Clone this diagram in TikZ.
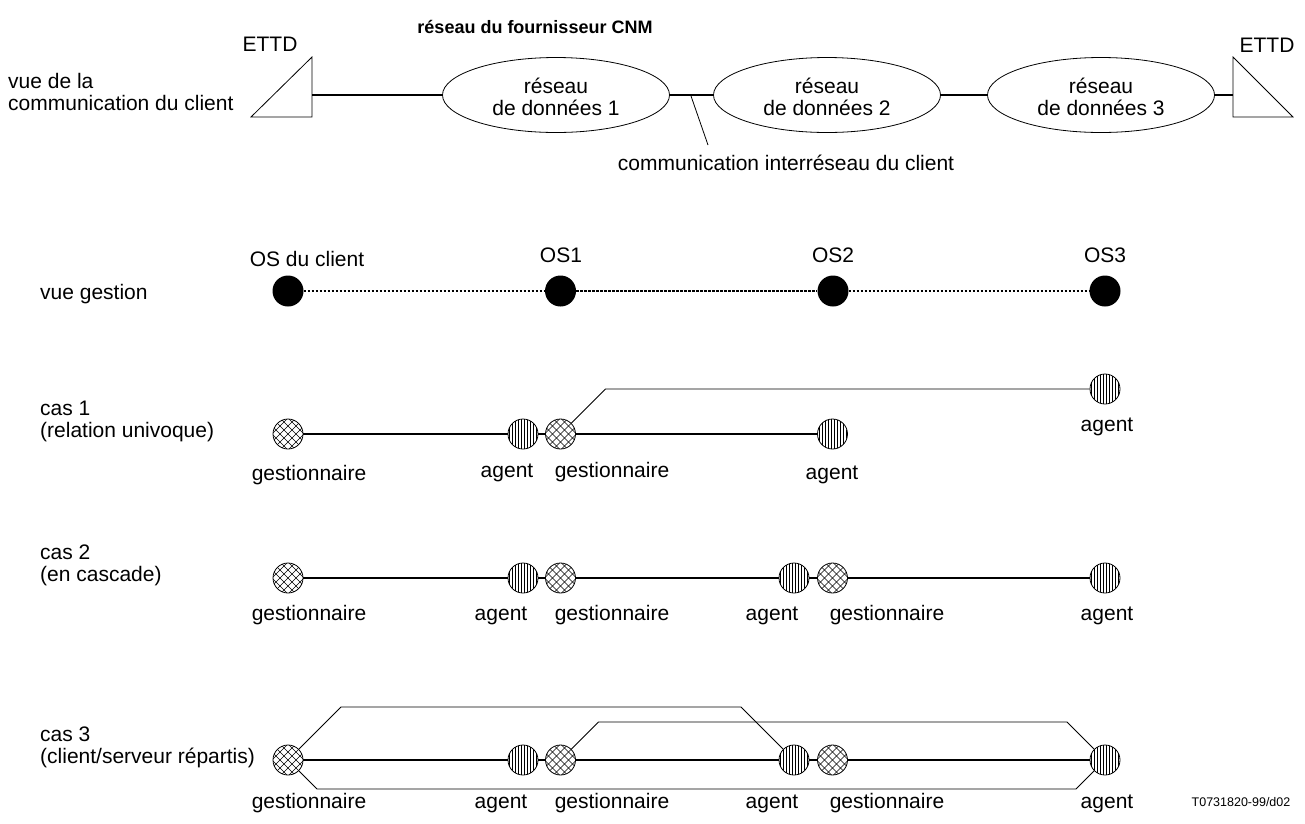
\documentclass[tikz,border=0pt]{standalone}
\usepackage{fontspec}
\setmainfont{Liberation Sans}
\usetikzlibrary{shapes.geometric,calc}
\newcommand\gesthatch{%
  \foreach \k in {-24,-16,...,24}{%
    \draw[line width=0.5pt] ($(path picture bounding box.center)+(\k pt,0pt)+(-20pt,-20pt)$) -- ++(40pt,40pt);
    \draw[line width=0.5pt] ($(path picture bounding box.center)+(\k pt,0pt)+(-20pt,20pt)$) -- ++(40pt,-40pt);
  }}
\newcommand\agenthatch{%
  \foreach \k in {-13.5,-10.5,...,14}{%
    \draw[line width=0.5pt] ($(path picture bounding box.center)+(\k pt,-16pt)$) -- ++(0pt,32pt);
  }}
\begin{document}
\begin{tikzpicture}[x=1pt,y=-1pt,
  every node/.style={font=\fontsize{21pt}{22pt}\selectfont, inner sep=0pt},
  gest/.style={circle, draw, line width=0.8pt, minimum size=30pt, path picture={\gesthatch}},
  agent/.style={circle, draw, line width=0.8pt, minimum size=30pt, path picture={\agenthatch}},
  os/.style={circle, fill=black, minimum size=31pt},
  net/.style={ellipse, draw, line width=0.8pt, minimum width=227pt, minimum height=75pt},
  nettext/.style={align=center},
  lbl/.style={anchor=base west},
  tag/.style={anchor=base},
  mainline/.style={line width=1.7pt},
  thinline/.style={line width=0.8pt},
  dotline/.style={line width=1.5pt, dash pattern=on 2.5pt off 1.5pt}]
\useasboundingbox (0,0) rectangle (1305,823);

% ---------- top: customer communication view
\node[tag, font=\bfseries\fontsize{18pt}{20pt}\selectfont] (cnm) at (535,33) {réseau du fournisseur CNM};
\node[lbl] (vue1a) at (8,88) {vue de la};
\node[lbl] (vue1b) at (8,110) {communication du client};
\node[tag] (ettdl) at (270,51) {ETTD};
\node[tag] (ettdr) at (1267,52) {ETTD};
\draw[thinline] (251,117) -- (312,57) -- (312,117) -- cycle;
\draw[thinline] (1233,57) -- (1293,117) -- (1233,117) -- cycle;
\coordinate (tl) at (312,95);
\coordinate (tr) at (1233,95);
\node[net] (n1) at (556,95) {};
\node[net] (n2) at (827,95) {};
\node[net] (n3) at (1101,95) {};
\node[nettext] (n1t) at (556,97) {réseau\\de données 1};
\node[nettext] (n2t) at (827,97) {réseau\\de données 2};
\node[nettext] (n3t) at (1101,97) {réseau\\de données 3};
\draw[mainline] (tl) -- (n1);
\draw[mainline] (n1) -- (n2);
\draw[mainline] (n2) -- (n3);
\draw[mainline] (n3) -- (tr);
\coordinate (leadA) at (691,96);
\coordinate (leadB) at (708,145);
\draw[thinline] (leadA) -- (leadB);
\node[tag] (inter) at (786,170) {communication interréseau du client};

% ---------- management view
\node[lbl] (vg) at (40,299) {vue gestion};
\node[os] (os0) at (288,291) {};
\node[os] (os1) at (560.5,291) {};
\node[os] (os2) at (833,291) {};
\node[os] (os3) at (1105,291) {};
\node[tag] (os0l) at (307,266) {OS du client};
\node[tag] (os1l) at (561,262) {OS1};
\node[tag] (os2l) at (833,262) {OS2};
\node[tag] (os3l) at (1105,262) {OS3};
\draw[dotline] (os0) -- (os1);
\draw[dotline] (os1) -- (os2);
\draw[dotline] (os2) -- (os3);

% ---------- cas 1
\node[lbl] (c1ta) at (40,415) {cas 1};
\node[lbl] (c1tb) at (40,437) {(relation univoque)};
\node[gest] (c1g1) at (288,434) {};
\node[agent] (c1a1) at (523,434) {};
\node[gest] (c1g2) at (560.5,434) {};
\node[agent] (c1a2) at (832.5,434) {};
\node[agent] (c1a3) at (1105,389) {};
\draw[mainline] (c1g1) -- (c1a1);
\draw[mainline] (c1a1) -- (c1g2);
\draw[mainline] (c1g2) -- (c1a2);
\draw[thinline] (c1g2.north east) -- ($(c1g2)+(45,-45)$) -- (c1a3.west);
\node[tag] (c1g1l) at (309,480) {gestionnaire};
\node[tag] (c1a1l) at (507,477) {agent};
\node[tag] (c1g2l) at (612,477) {gestionnaire};
\node[tag] (c1a2l) at (832,479) {agent};
\node[tag] (c1a3l) at (1107,431) {agent};

% ---------- cas 2
\node[lbl] (c2ta) at (40,559) {cas 2};
\node[lbl] (c2tb) at (40,581) {(en cascade)};
\node[gest] (c2g1) at (288,578) {};
\node[agent] (c2a1) at (523,578) {};
\node[gest] (c2g2) at (560.5,578) {};
\node[agent] (c2a2) at (794,578) {};
\node[gest] (c2g3) at (832.5,578) {};
\node[agent] (c2a3) at (1105,578) {};
\draw[mainline] (c2g1) -- (c2a1);
\draw[mainline] (c2a1) -- (c2g2);
\draw[mainline] (c2g2) -- (c2a2);
\draw[mainline] (c2a2) -- (c2g3);
\draw[mainline] (c2g3) -- (c2a3);
\node[tag] (c2g1l) at (309,620) {gestionnaire};
\node[tag] (c2a1l) at (501,620) {agent};
\node[tag] (c2g2l) at (612,620) {gestionnaire};
\node[tag] (c2a2l) at (772,620) {agent};
\node[tag] (c2g3l) at (887,620) {gestionnaire};
\node[tag] (c2a3l) at (1107,620) {agent};

% ---------- cas 3
\node[lbl] (c3ta) at (40,741) {cas 3};
\node[lbl] (c3tb) at (40,763) {(client/serveur répartis)};
\node[gest] (c3g1) at (288,760) {};
\node[agent] (c3a1) at (523,760) {};
\node[gest] (c3g2) at (560.5,760) {};
\node[agent] (c3a2) at (794,760) {};
\node[gest] (c3g3) at (832.5,760) {};
\node[agent] (c3a3) at (1105,760) {};
\draw[mainline] (c3g1) -- (c3a1);
\draw[mainline] (c3a1) -- (c3g2);
\draw[mainline] (c3g2) -- (c3a2);
\draw[mainline] (c3a2) -- (c3g3);
\draw[mainline] (c3g3) -- (c3a3);
\draw[thinline] (c3g1.north east) -- ($(c3g1)+(53,-53)$) -- ($(c3a2)+(-53,-53)$) -- (c3a2.north west);
\draw[thinline] (c3g2.north east) -- ($(c3g2)+(38,-38)$) -- ($(c3a3)+(-38,-38)$) -- (c3a3.north west);
\draw[thinline] (c3g1.south east) -- ($(c3g1)+(29,29)$) -- ($(c3a3)+(-29,29)$) -- (c3a3.south west);
\node[tag] (c3g1l) at (309,808) {gestionnaire};
\node[tag] (c3a1l) at (501,808) {agent};
\node[tag] (c3g2l) at (612,808) {gestionnaire};
\node[tag] (c3a2l) at (772,808) {agent};
\node[tag] (c3g3l) at (887,808) {gestionnaire};
\node[tag] (c3a3l) at (1107,808) {agent};

\node[tag, font=\fontsize{12.5pt}{14pt}\selectfont] (ref) at (1241,806) {T0731820-99/d02};
\end{tikzpicture}
\end{document}
